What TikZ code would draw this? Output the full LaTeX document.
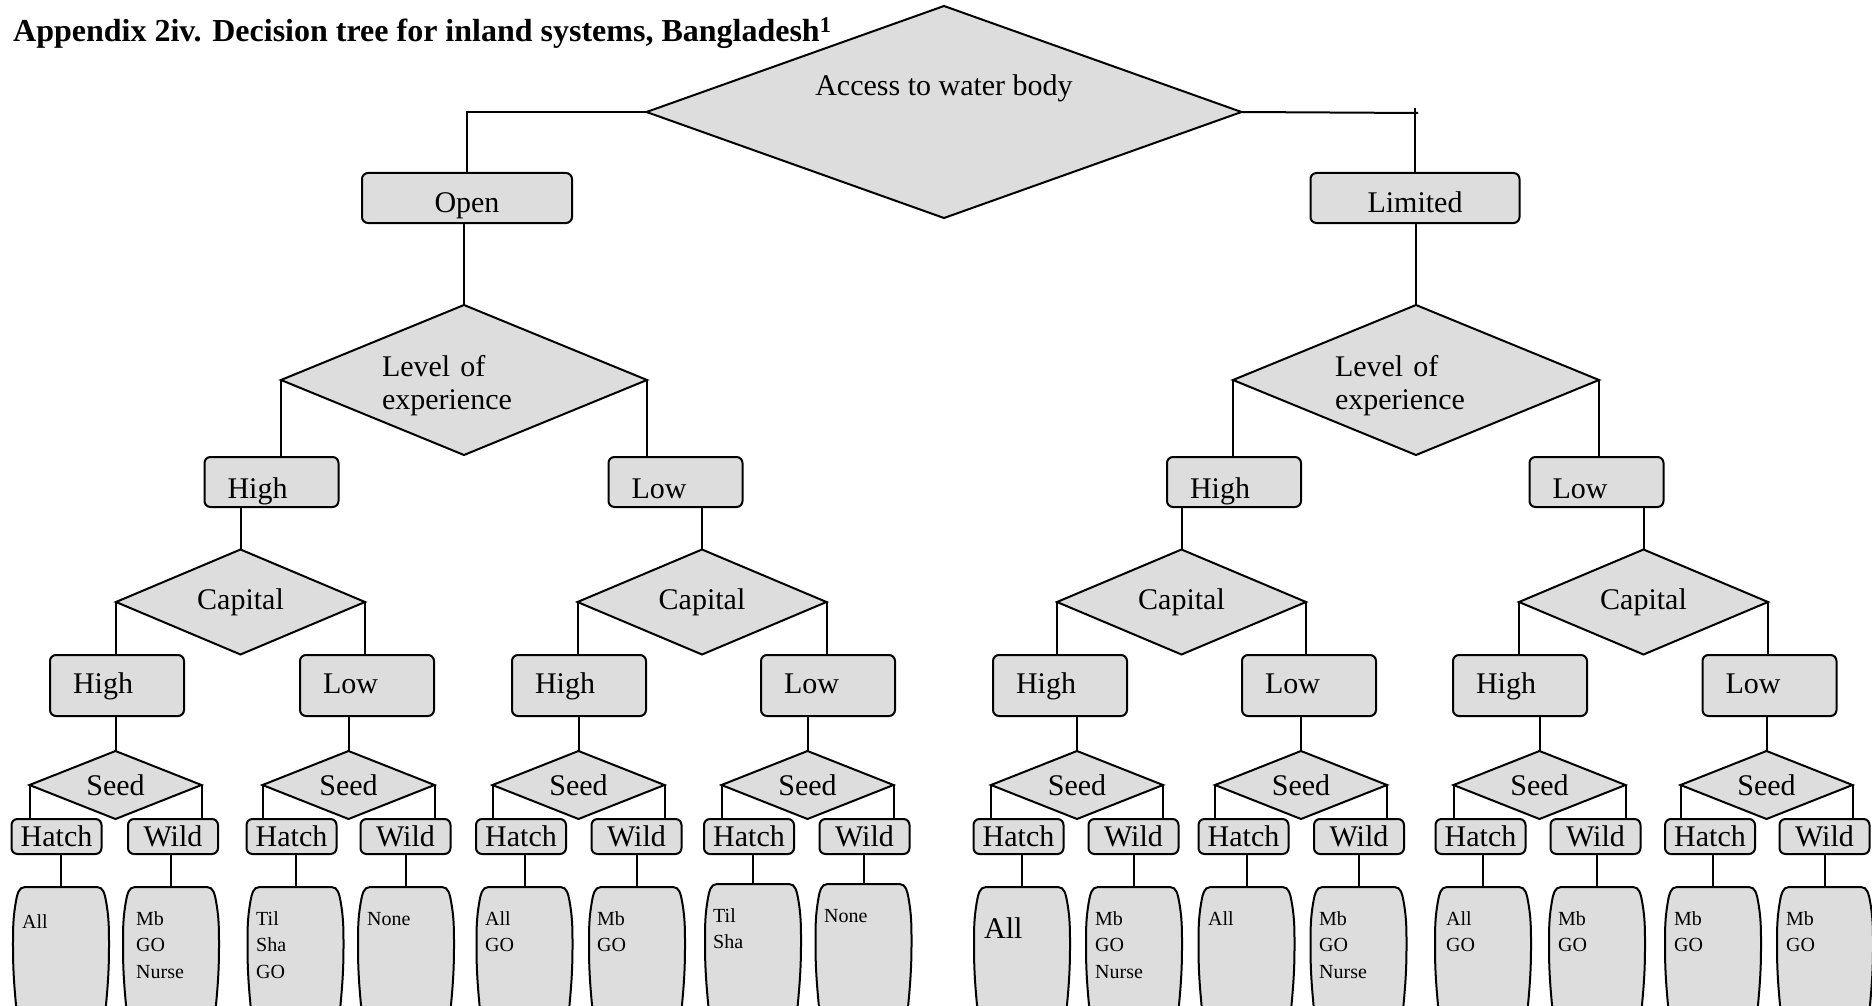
\documentclass[tikz,border=0pt]{standalone}
\usepackage{fontspec}
\setmainfont{Liberation Serif}
\usepackage{tikz}
\usetikzlibrary{shapes.geometric,calc}
\definecolor{boxgray}{RGB}{221,221,221}
\tikzset{
  dec/.style={diamond, draw, line width=2pt, fill=boxgray, inner sep=0pt, outer sep=0pt, font=\fontsize{30}{33}\selectfont},
  ans/.style={rectangle, rounded corners=6pt, draw, line width=2pt, fill=boxgray, inner sep=0pt, outer sep=0pt, font=\fontsize{30}{33}\selectfont},
  ansleft/.style={ans, text width=88pt, inner xsep=23pt, align=left},
  seedans/.style={ans, minimum width=90pt, minimum height=35pt},
  leaf/.style={draw, line width=2pt, fill=boxgray},
  leaftext/.style={anchor=base west, inner sep=0pt, text width=80pt, align=left, font=\fontsize{20}{26.5}\selectfont},
  link/.style={line width=2pt}
}
\newcommand{\leafbox}[2]{%
  \draw[leaf] (#1-36,#2) -- (#1+36,#2) to[out=0,in=100] (#1+45,#2+14) to[out=-80,in=90] (#1+48,#2+60) to[out=-90,in=85] (#1+43,#2+140) -- (#1-43,#2+140) to[out=95,in=-90] (#1-48,#2+60) to[out=90,in=-100] (#1-45,#2+14) to[out=80,in=180] (#1-36,#2) -- cycle;}

\begin{document}
\begin{tikzpicture}[x=1pt,y=-1pt]
\useasboundingbox (0,0) rectangle (1872,1006);
\clip (0,0) rectangle (1872,1006);

    \node[anchor=base west, inner sep=0pt, font=\bfseries\fontsize{32}{36}\selectfont] (title) at (13,42) {Appendix 2iv. Decision tree for inland systems, Bangladesh\textsuperscript{1}};

    \node[dec, aspect=2.8, minimum width=595pt, minimum height=212pt, text height=21pt, text depth=53pt] (acc) at (944,112) {Access to water body};
        \node[ans, minimum width=210pt, minimum height=50pt, text height=28pt, text depth=0pt] (open) at (467,198) {Open};
        \node[ans, minimum width=209pt, minimum height=50pt, text height=28pt, text depth=0pt] (lim) at (1415,198) {Limited};

    \node[dec, aspect=2.44, minimum width=366pt, minimum height=150pt, text width=164pt, align=left, text height=33pt] (loe1) at (464,380) {Level of\\experience};
        \node[ansleft, minimum height=50pt, text height=32pt, text depth=0pt] (hi1) at (271.5,482) {High};
        \node[ansleft, minimum height=50pt, text height=32pt, text depth=0pt] (lo1) at (675.5,482) {Low};
    \node[dec, aspect=2.44, minimum width=366pt, minimum height=150pt, text width=162pt, align=left, text height=33pt] (loe2) at (1416,380) {Level of\\experience};
        \node[ansleft, minimum height=50pt, text height=32pt, text depth=0pt] (hi2) at (1234,482) {High};
        \node[ansleft, minimum height=50pt, text height=32pt, text depth=0pt] (lo2) at (1596.5,482) {Low};

    \node[dec, aspect=2.37, minimum width=249pt, minimum height=105pt] (cap1) at (240.5,602) {Capital};
    \node[dec, aspect=2.37, minimum width=249pt, minimum height=105pt] (cap2) at (702,602) {Capital};
    \node[dec, aspect=2.37, minimum width=249pt, minimum height=105pt] (cap3) at (1181.5,602) {Capital};
    \node[dec, aspect=2.37, minimum width=249pt, minimum height=105pt] (cap4) at (1643.5,602) {Capital};

        \node[ansleft, minimum height=61pt, text height=21pt, text depth=6pt] (ch1) at (117,685.5) {High};
        \node[ansleft, minimum height=61pt, text height=21pt, text depth=6pt] (cl1) at (367,685.5) {Low};
        \node[ansleft, minimum height=61pt, text height=21pt, text depth=6pt] (ch2) at (579,685.5) {High};
        \node[ansleft, minimum height=61pt, text height=21pt, text depth=6pt] (cl2) at (828,685.5) {Low};
        \node[ansleft, minimum height=61pt, text height=21pt, text depth=6pt] (ch3) at (1060,685.5) {High};
        \node[ansleft, minimum height=61pt, text height=21pt, text depth=6pt] (cl3) at (1309,685.5) {Low};
        \node[ansleft, minimum height=61pt, text height=21pt, text depth=6pt] (ch4) at (1520,685.5) {High};
        \node[ansleft, minimum height=61pt, text height=21pt, text depth=6pt] (cl4) at (1769.5,685.5) {Low};

    \node[dec, aspect=2.53, minimum width=172pt, minimum height=68pt] (sd1) at (115.5,785) {Seed};
    \node[dec, aspect=2.53, minimum width=172pt, minimum height=68pt] (sd2) at (348.5,785) {Seed};
    \node[dec, aspect=2.53, minimum width=172pt, minimum height=68pt] (sd3) at (578.5,785) {Seed};
    \node[dec, aspect=2.53, minimum width=172pt, minimum height=68pt] (sd4) at (807.5,785) {Seed};
    \node[dec, aspect=2.53, minimum width=172pt, minimum height=68pt] (sd5) at (1077,785) {Seed};
    \node[dec, aspect=2.53, minimum width=172pt, minimum height=68pt] (sd6) at (1301,785) {Seed};
    \node[dec, aspect=2.53, minimum width=172pt, minimum height=68pt] (sd7) at (1539.5,785) {Seed};
    \node[dec, aspect=2.53, minimum width=172pt, minimum height=68pt] (sd8) at (1766.5,785) {Seed};

        \node[seedans] (ht1) at (56.5,836.5) {Hatch};   \node[seedans] (wd1) at (173,836.5) {Wild};
        \node[seedans] (ht2) at (291.5,836.5) {Hatch};  \node[seedans] (wd2) at (405.5,836.5) {Wild};
        \node[seedans] (ht3) at (521,836.5) {Hatch};    \node[seedans] (wd3) at (636.5,836.5) {Wild};
        \node[seedans] (ht4) at (749,836.5) {Hatch};    \node[seedans] (wd4) at (864.5,836.5) {Wild};
        \node[seedans] (ht5) at (1018.5,836.5) {Hatch}; \node[seedans] (wd5) at (1133.5,836.5) {Wild};
        \node[seedans] (ht6) at (1243.5,836.5) {Hatch}; \node[seedans] (wd6) at (1359,836.5) {Wild};
        \node[seedans] (ht7) at (1480.5,836.5) {Hatch}; \node[seedans] (wd7) at (1595.5,836.5) {Wild};
        \node[seedans] (ht8) at (1710,836.5) {Hatch};   \node[seedans] (wd8) at (1824.5,836.5) {Wild};

    \leafbox{61}{887}    \coordinate (lf1) at (61,887);
    \leafbox{171}{887}   \coordinate (lf2) at (171,887);
    \leafbox{295.5}{887} \coordinate (lf3) at (295.5,887);
    \leafbox{406}{887}   \coordinate (lf4) at (406,887);
    \leafbox{524.5}{887} \coordinate (lf5) at (524.5,887);
    \leafbox{637}{887}   \coordinate (lf6) at (637,887);
    \leafbox{753}{884}   \coordinate (lf7) at (753,884);
    \leafbox{863.5}{884} \coordinate (lf8) at (863.5,884);
    \leafbox{1022}{887}  \coordinate (lf9) at (1022,887);
    \leafbox{1134}{887}  \coordinate (lf10) at (1134,887);
    \leafbox{1246.5}{887} \coordinate (lf11) at (1246.5,887);
    \leafbox{1358.5}{887} \coordinate (lf12) at (1358.5,887);
    \leafbox{1483}{887}  \coordinate (lf13) at (1483,887);
    \leafbox{1597}{887}  \coordinate (lf14) at (1597,887);
    \leafbox{1713}{887}  \coordinate (lf15) at (1713,887);
    \leafbox{1825}{887}  \coordinate (lf16) at (1825,887);

        \node[leaftext] (tx1) at (22,928) {All};
        \node[leaftext] (tx2) at (136,925) {Mb\\GO\\Nurse};
        \node[leaftext] (tx3) at (256,925) {Til\\Sha\\GO};
        \node[leaftext] (tx4) at (367,925) {None};
        \node[leaftext] (tx5) at (485,925) {All\\GO};
        \node[leaftext] (tx6) at (597,925) {Mb\\GO};
        \node[leaftext] (tx7) at (713,922) {Til\\Sha};
        \node[leaftext] (tx8) at (824,922) {None};
        \node[leaftext, font=\fontsize{30}{33}\selectfont] (tx9) at (984,938) {All};
        \node[leaftext] (tx10) at (1095,925) {Mb\\GO\\Nurse};
        \node[leaftext] (tx11) at (1208,925) {All};
        \node[leaftext] (tx12) at (1319,925) {Mb\\GO\\Nurse};
        \node[leaftext] (tx13) at (1446,925) {All\\GO};
        \node[leaftext] (tx14) at (1558,925) {Mb\\GO};
        \node[leaftext] (tx15) at (1674,925) {Mb\\GO};
        \node[leaftext] (tx16) at (1786,925) {Mb\\GO};

    \coordinate (accr) at (1418,113);
    \coordinate (limtop) at (1415,108);
    \draw[link] (acc.west) -| (open.north);
    \draw[link] (acc.east) -- (accr);
    \draw[link] (limtop) -- (lim.north);
    \draw[link] (loe1.north |- open.south) -- (loe1.north);
    \draw[link] (loe2.north |- lim.south) -- (loe2.north);

    \draw[link] (loe1.west) -- (loe1.west |- hi1.north) (loe1.east) -- (loe1.east |- lo1.north);
    \draw[link] (loe2.west) -- (loe2.west |- hi2.north) (loe2.east) -- (loe2.east |- lo2.north);

    \draw[link] (cap1.north |- hi1.south) -- (cap1.north);
    \draw[link] (cap2.north |- lo1.south) -- (cap2.north);
    \draw[link] (cap3.north |- hi2.south) -- (cap3.north);
    \draw[link] (cap4.north |- lo2.south) -- (cap4.north);

    \draw[link] (cap1.west) -- (cap1.west |- ch1.north) (cap1.east) -- (cap1.east |- cl1.north);
    \draw[link] (cap2.west) -- (cap2.west |- ch2.north) (cap2.east) -- (cap2.east |- cl2.north);
    \draw[link] (cap3.west) -- (cap3.west |- ch3.north) (cap3.east) -- (cap3.east |- cl3.north);
    \draw[link] (cap4.west) -- (cap4.west |- ch4.north) (cap4.east) -- (cap4.east |- cl4.north);

    \draw[link] (sd1.north |- ch1.south) -- (sd1.north);
    \draw[link] (sd2.north |- cl1.south) -- (sd2.north);
    \draw[link] (sd3.north |- ch2.south) -- (sd3.north);
    \draw[link] (sd4.north |- cl2.south) -- (sd4.north);
    \draw[link] (sd5.north |- ch3.south) -- (sd5.north);
    \draw[link] (sd6.north |- cl3.south) -- (sd6.north);
    \draw[link] (sd7.north |- ch4.south) -- (sd7.north);
    \draw[link] (sd8.north |- cl4.south) -- (sd8.north);

    \draw[link] (sd1.west) -- (sd1.west |- ht1.north) (sd1.east) -- (sd1.east |- wd1.north);
    \draw[link] (sd2.west) -- (sd2.west |- ht2.north) (sd2.east) -- (sd2.east |- wd2.north);
    \draw[link] (sd3.west) -- (sd3.west |- ht3.north) (sd3.east) -- (sd3.east |- wd3.north);
    \draw[link] (sd4.west) -- (sd4.west |- ht4.north) (sd4.east) -- (sd4.east |- wd4.north);
    \draw[link] (sd5.west) -- (sd5.west |- ht5.north) (sd5.east) -- (sd5.east |- wd5.north);
    \draw[link] (sd6.west) -- (sd6.west |- ht6.north) (sd6.east) -- (sd6.east |- wd6.north);
    \draw[link] (sd7.west) -- (sd7.west |- ht7.north) (sd7.east) -- (sd7.east |- wd7.north);
    \draw[link] (sd8.west) -- (sd8.west |- ht8.north) (sd8.east) -- (sd8.east |- wd8.north);

    \draw[link] (lf1 |- ht1.south) -- (lf1) (lf2 |- wd1.south) -- (lf2);
    \draw[link] (lf3 |- ht2.south) -- (lf3) (lf4 |- wd2.south) -- (lf4);
    \draw[link] (lf5 |- ht3.south) -- (lf5) (lf6 |- wd3.south) -- (lf6);
    \draw[link] (lf7 |- ht4.south) -- (lf7) (lf8 |- wd4.south) -- (lf8);
    \draw[link] (lf9 |- ht5.south) -- (lf9) (lf10 |- wd5.south) -- (lf10);
    \draw[link] (lf11 |- ht6.south) -- (lf11) (lf12 |- wd6.south) -- (lf12);
    \draw[link] (lf13 |- ht7.south) -- (lf13) (lf14 |- wd7.south) -- (lf14);
    \draw[link] (lf15 |- ht8.south) -- (lf15) (lf16 |- wd8.south) -- (lf16);

\end{tikzpicture}
\end{document}
